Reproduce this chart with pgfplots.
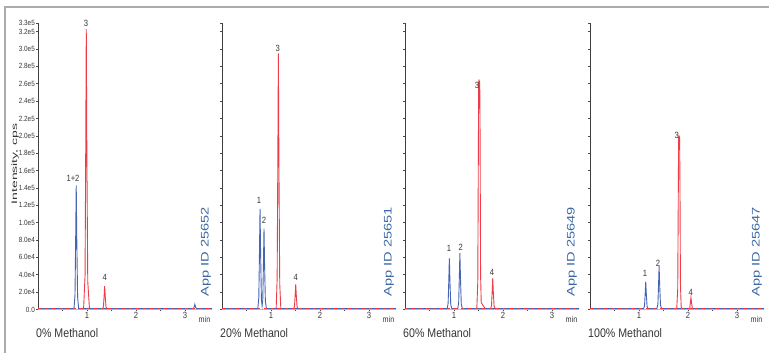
\documentclass[border=0pt]{standalone}
\usepackage{pgfplots}
\pgfplotsset{compat=1.18}
\usepackage{fontspec}
\setmainfont{Liberation Sans}
\newfontfamily\nar[FakeStretch=0.85]{Liberation Sans}
\definecolor{pblue}{RGB}{70,100,180}
\definecolor{pred}{RGB}{238,60,72}
\definecolor{appblue}{RGB}{60,105,165}
\definecolor{txt}{RGB}{55,55,55}
\pgfplotsset{
  chrom/.style={
    scale only axis, width=174pt, height=286.5pt,
    xmin=0, xmax=3.55, ymin=0, ymax=3.3e5,
    anchor=south west,
    axis x line=bottom, axis y line=left,
    axis line style={-, draw=black!75, line width=0.7pt},
    x axis line style={draw=gray!50},
    xtick={1,2,3}, minor xtick={0.5,1.5,2.5},
    ytick={0,20000,40000,60000,80000,100000,120000,140000,160000,180000,200000,220000,240000,260000,280000,300000,320000,330000},
    tick align=outside, major tick length=2pt, minor tick length=1.5pt,
    tick style={black!70, line width=0.6pt},
    scaled y ticks=false,
    yticklabels={},
    xticklabel style={font=\nar\fontsize{9}{9}\selectfont, text=txt, inner sep=1pt},
    yticklabel style={font=\nar\fontsize{7.5}{7.5}\selectfont, text=txt, inner sep=1pt},
    /pgf/number format/assume math mode=true,
    clip=false,
  },
}
\tikzset{
  bl/.style={pblue, line width=0.9pt},
  rd/.style={pred, line width=0.9pt},
  rdb/.style={pred, line width=0.9pt, dash pattern=on 3pt off 4pt},
  lab/.style={font=\nar\fontsize{9}{9}\selectfont, text=txt, inner sep=0pt},
  minlab/.style={font=\nar\fontsize{8.5}{8.5}\selectfont, text=txt, inner sep=0pt, anchor=north east, yshift=-6.5pt, xshift=-1.5pt},
}
\begin{document}
\begin{tikzpicture}[x=1pt,y=1pt]
\useasboundingbox (0,0) rectangle (769,353);
\fill[white] (0,0) rectangle (769,353);
\draw[gray!65, line width=2pt] (5,0) -- (5,346) -- (769,346);

% Panel 1: 0% Methanol
\begin{axis}[chrom, at={(38pt,43.5pt)},
  yticklabels={0.0,2.0e4,4.0e4,6.0e4,8.0e4,1.0e5,1.2e5,1.4e5,1.6e5,1.8e5,2.0e5,2.2e5,2.4e5,2.6e5,2.8e5,3.0e5,3.2e5,3.3e5}]
\addplot[bl] coordinates {(0,1000)(0.735,1000)(0.755,17160)(0.768,78650)(0.78,143000)(0.792,78650)(0.808,14300)(0.83,1000)(3.17,1000)(3.19,3500)(3.2,6000)(3.21,3500)(3.23,1000)(3.55,1000)};
\addplot[rdb] coordinates {(0,1000)(3.55,1000)};
\addplot[rd] coordinates {(0.93,1000)(0.96,38760)(0.973,177650)(0.985,323000)(0.997,177650)(1.015,32300)(1.05,1000)};
\addplot[rd] coordinates {(1.315,1000)(1.335,3240)(1.348,14850)(1.36,27000)(1.372,14850)(1.388,2700)(1.41,1000)};
\node[lab] at (axis cs:0.714,151460) {1+2};
\node[lab] at (axis cs:0.98,330000) {3};
\node[lab] at (axis cs:1.361,37430) {4};
\node[minlab] at (axis cs:3.55,0) {min};
\end{axis}

% Panel 2: 20% Methanol
\begin{axis}[chrom, at={(222pt,43.5pt)}]
\addplot[bl] coordinates {(0,1000)(0.731,1000)(0.751,13920)(0.764,63800)(0.776,116000)(0.788,63800)(0.804,11600)(0.818,4000)(0.832,11160)(0.845,51150)(0.857,93000)(0.869,51150)(0.885,9300)(0.907,1000)(3.55,1000)};
\addplot[rdb] coordinates {(0,1000)(3.55,1000)};
\addplot[rd] coordinates {(1.105,1000)(1.125,35400)(1.138,162250)(1.15,295000)(1.162,162250)(1.178,29500)(1.2,1000)};
\addplot[rd] coordinates {(1.459,1000)(1.479,3480)(1.492,15950)(1.504,29000)(1.516,15950)(1.532,2900)(1.554,1000)};
\node[lab] at (axis cs:0.755,126120) {1};
\node[lab] at (axis cs:0.857,103090) {2};
\node[lab] at (axis cs:1.137,301200) {3};
\node[lab] at (axis cs:1.504,37430) {4};
\node[minlab] at (axis cs:3.55,0) {min};
\end{axis}

% Panel 3: 60% Methanol
\begin{axis}[chrom, at={(405pt,43.5pt)}]
\addplot[bl] coordinates {(0,1000)(0.86,1000)(0.88,7080)(0.893,32450)(0.905,59000)(0.917,32450)(0.933,5900)(0.955,1000)(1.075,1000)(1.095,7800)(1.108,35750)(1.12,65000)(1.132,35750)(1.148,6500)(1.17,1000)(3.55,1000)};
\addplot[rdb] coordinates {(0,1000)(3.55,1000)};
\addplot[rd] coordinates {(1.465,1000)(1.485,31680)(1.498,200000)(1.503,262000)(1.51,264000)(1.525,262000)(1.532,200000)(1.542,40000)(1.555,8000)(1.6,4000)(1.64,1000)};
\addplot[rd] coordinates {(1.745,1000)(1.765,4320)(1.778,19800)(1.79,36000)(1.802,19800)(1.818,3600)(1.84,1000)};
\node[lab] at (axis cs:0.898,70840) {1};
\node[lab] at (axis cs:1.137,71990) {2};
\node[lab] at (axis cs:1.469,258580) {3};
\node[lab] at (axis cs:1.776,43190) {4};
\node[minlab] at (axis cs:3.55,0) {min};
\end{axis}

% Panel 4: 100% Methanol
\begin{axis}[chrom, at={(590pt,43.5pt)}]
\addplot[bl] coordinates {(0,1000)(1.092,1000)(1.112,3840)(1.125,17600)(1.137,32000)(1.149,17600)(1.165,3200)(1.187,1000)(1.365,1000)(1.385,6000)(1.398,27500)(1.41,50000)(1.422,27500)(1.438,5000)(1.46,1000)(3.55,1000)};
\addplot[rdb] coordinates {(0,1000)(3.55,1000)};
\addplot[rd] coordinates {(1.77,1000)(1.79,24000)(1.803,150000)(1.808,198000)(1.815,200000)(1.828,198000)(1.835,150000)(1.845,30000)(1.86,3000)(1.875,1000)};
\addplot[rd] coordinates {(2.015,1000)(2.035,1680)(2.048,7700)(2.06,14000)(2.072,7700)(2.088,1400)(2.11,1000)};
\node[lab] at (axis cs:1.122,42040) {1};
\node[lab] at (axis cs:1.388,53560) {2};
\node[lab] at (axis cs:1.769,201000) {3};
\node[lab] at (axis cs:2.055,20160) {4};
\node[minlab] at (axis cs:3.55,0) {min};
\end{axis}

% texts
\node[rotate=90, font=\fontsize{8}{8}\selectfont, text=txt, inner sep=0] at (15,189) {\scalebox{1.75}[1]{Intensity, cps}};
\foreach \xx/\lbl in {36/0\%, 220/20\%, 403/60\%, 588/100\%}{
  \node[anchor=base west, font=\nar\fontsize{12.5}{12.5}\selectfont, text=txt, inner sep=0] at (\xx,15) {\lbl{} Methanol};
}
\foreach \xx/\id in {206/25652, 389/25651, 572/25649, 757/25647}{
  \node[rotate=90, font=\fontsize{11}{11}\selectfont, text=appblue, inner sep=0] at (\xx,101) {\scalebox{1.33}[1]{App ID \id}};
}
\end{tikzpicture}
\end{document}
